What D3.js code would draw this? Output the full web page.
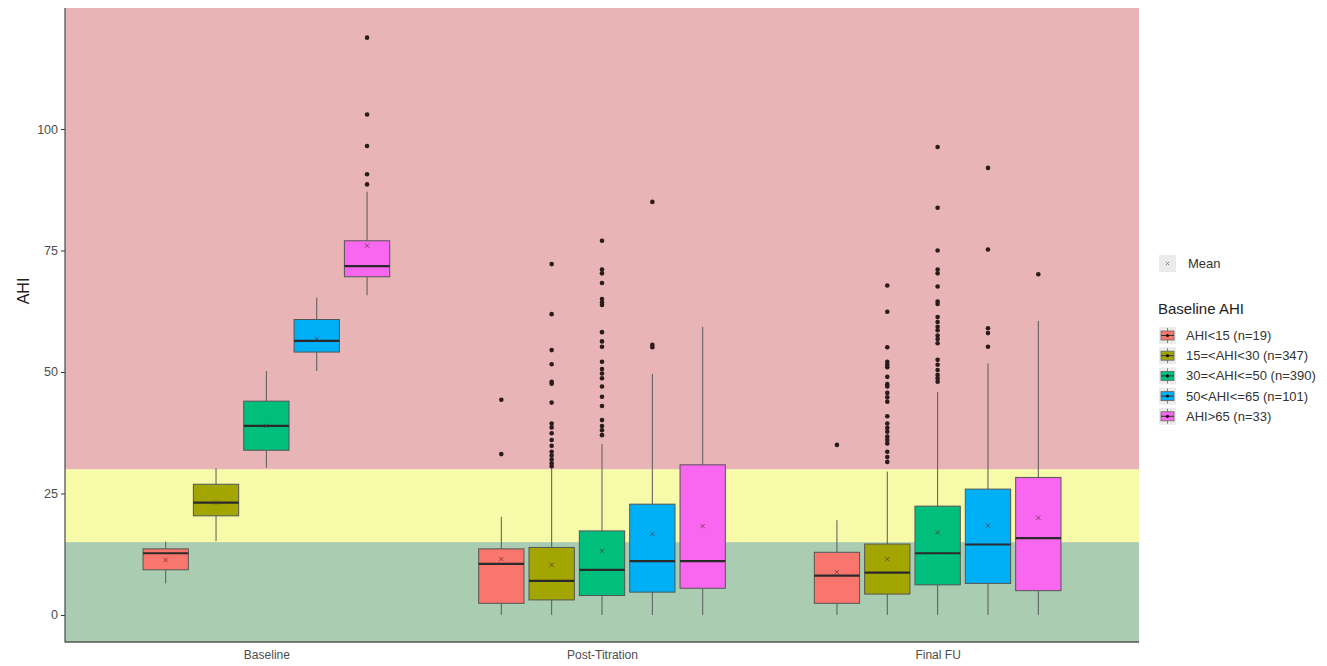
<!DOCTYPE html>
<html>
<head>
<meta charset="utf-8">
<script src="https://cdn.jsdelivr.net/npm/d3@7/dist/d3.min.js"></script>
<style>
  html, body { margin: 0; padding: 0; background: #fff; }
  svg { display: block; font-family: "Liberation Sans", Arial, sans-serif; }
</style>
</head>
<body>
<svg id="chart" width="1327" height="666"></svg>
<script>
// ---------------- data ----------------
const timepoints = ["Baseline", "Post-Titration", "Final FU"];
const groups = ["AHI<15 (n=19)", "15=<AHI<30 (n=347)", "30=<AHI<=50 (n=390)", "50<AHI<=65 (n=101)", "AHI>65 (n=33)"];
const groupColors = ["#F8766D", "#A3A500", "#00BF7D", "#00B0F6", "#F967F0"];
const yTicks = [0, 25, 50, 75, 100];
const severityCuts = [15, 30];
const severityColors = ["#AACDB1", "#F6FAA9", "#E8B4B5"];

// per timepoint, per group
const whiskerLow = [
  [6.5, 15.2, 30.3, 50.2, 65.8],
  [0, 0, 0, 0, 0],
  [0, 0, 0, 0, 0]
];
const q1 = [
  [9.3, 20.4, 33.9, 54.1, 69.6],
  [2.4, 3.1, 4.0, 4.7, 5.5],
  [2.4, 4.3, 6.2, 6.5, 5.0]
];
const medians = [
  [12.7, 23.1, 38.9, 56.4, 71.8],
  [10.5, 7.0, 9.3, 11.1, 11.1],
  [8.1, 8.7, 12.7, 14.5, 15.8]
];
const q3 = [
  [13.6, 26.9, 44.0, 60.8, 77.0],
  [13.6, 13.9, 17.3, 22.8, 30.9],
  [12.9, 14.6, 22.4, 25.9, 28.3]
];
const whiskerHigh = [
  [15.1, 30.2, 50.2, 65.3, 87.1],
  [20.2, 30.5, 35.2, 49.6, 59.3],
  [19.5, 29.5, 45.9, 51.8, 60.5]
];
const means = [
  [11.3, 23.1, 38.9, 56.8, 76.0],
  [11.5, 10.3, 13.2, 16.7, 18.3],
  [8.8, 11.5, 17.0, 18.4, 20.0]
];
const outliersBaseline = [
  [], [], [], [],
  [118.8, 103.0, 96.5, 90.7, 88.6]
];
const outliersPostTitration = [
  [44.3, 33.1],
  [72.2, 61.9, 54.5, 51.6, 48.0, 47.6, 43.7, 39.4, 38.6, 37.4, 36.0, 34.8, 33.6, 32.8, 32.0, 31.2, 30.6],
  [77.0, 71.1, 70.3, 68.3, 65.0, 64.3, 63.8, 58.2, 56.3, 55.2, 52.1, 50.6, 49.7, 48.7, 47.0, 44.9, 43.0, 40.1, 38.9, 38.0, 37.0],
  [85.0, 55.6, 55.1],
  []
];
const outliersFinalFU = [
  [35.0],
  [67.8, 62.4, 55.1, 52.1, 51.5, 51.0, 49.0, 47.5, 47.0, 45.7, 44.8, 43.9, 40.9, 39.4, 38.5, 37.7, 36.7, 36.0, 35.3, 33.6, 32.5, 31.5],
  [96.3, 83.8, 75.0, 71.1, 70.3, 67.6, 64.5, 64.0, 61.3, 60.3, 59.3, 58.6, 57.5, 56.8, 55.9, 52.5, 51.5, 50.4, 49.4, 48.7, 48.0],
  [92.0, 75.2, 59.0, 58.0, 55.2],
  [70.1]
];
const outliers = [outliersBaseline, outliersPostTitration, outliersFinalFU];

// ---------------- layout ----------------
const svg = d3.select("#chart");
const panel = { left: 65, right: 1139, top: 8, bottom: 642 };

const x = d3.scaleLinear().domain([0.4, timepoints.length + 0.6]).range([panel.left, panel.right]);
const y = d3.scaleLinear().domain([-5.56, 124.9]).range([panel.bottom, panel.top]);
const dodgeWidth = 0.75;
const slot = dodgeWidth / groups.length;
const boxW = x(slot * 0.9) - x(0);
const cx = (t, g) => x(t + 1 + (g - (groups.length - 1) / 2) * slot);

// severity bands
const bandEdges = [y.domain()[0], ...severityCuts, y.domain()[1]];
svg.append("g").selectAll("rect")
  .data(severityColors)
  .join("rect")
  .attr("x", panel.left)
  .attr("width", panel.right - panel.left)
  .attr("y", (d, i) => y(bandEdges[i + 1]))
  .attr("height", (d, i) => y(bandEdges[i]) - y(bandEdges[i + 1]))
  .attr("fill", d => d);

// boxes
const cells = [];
timepoints.forEach((tp, t) => groups.forEach((gname, g) => cells.push({ t, g })));

const gBoxes = svg.append("g");
const cell = gBoxes.selectAll("g.cell").data(cells).join("g").attr("class", "cell");

// whiskers
cell.append("line")
  .attr("x1", d => cx(d.t, d.g)).attr("x2", d => cx(d.t, d.g))
  .attr("y1", d => y(q3[d.t][d.g])).attr("y2", d => y(whiskerHigh[d.t][d.g]))
  .attr("stroke", "#5a5a5a").attr("stroke-width", 1);
cell.append("line")
  .attr("x1", d => cx(d.t, d.g)).attr("x2", d => cx(d.t, d.g))
  .attr("y1", d => y(q1[d.t][d.g])).attr("y2", d => y(whiskerLow[d.t][d.g]))
  .attr("stroke", "#5a5a5a").attr("stroke-width", 1);
// box
cell.append("rect")
  .attr("x", d => cx(d.t, d.g) - boxW / 2)
  .attr("width", boxW)
  .attr("y", d => y(q3[d.t][d.g]))
  .attr("height", d => y(q1[d.t][d.g]) - y(q3[d.t][d.g]))
  .attr("fill", d => groupColors[d.g])
  .attr("stroke", "#555").attr("stroke-width", 1);
// median
cell.append("line")
  .attr("x1", d => cx(d.t, d.g) - boxW / 2).attr("x2", d => cx(d.t, d.g) + boxW / 2)
  .attr("y1", d => y(medians[d.t][d.g])).attr("y2", d => y(medians[d.t][d.g]))
  .attr("stroke", "#2a2a2a").attr("stroke-width", 2.2);
// outliers
cell.selectAll("circle")
  .data(d => outliers[d.t][d.g].map(v => ({ t: d.t, g: d.g, v })))
  .join("circle")
  .attr("cx", d => cx(d.t, d.g))
  .attr("cy", d => y(d.v))
  .attr("r", 2.3)
  .attr("fill", "#2a1c1c");
// mean marker (x)
const xs = 2.2;
cell.append("path")
  .attr("d", d => {
    const px = cx(d.t, d.g), py = y(means[d.t][d.g]);
    return `M${px - xs},${py - xs}L${px + xs},${py + xs}M${px - xs},${py + xs}L${px + xs},${py - xs}`;
  })
  .attr("stroke", "#5a2a3a").attr("stroke-opacity", 0.75).attr("stroke-width", 0.9).attr("fill", "none");

// axes
const yAxis = d3.axisLeft(y).tickValues(yTicks).tickSize(4).tickPadding(3);
const gy = svg.append("g").attr("transform", `translate(${panel.left},0)`).call(yAxis);
gy.select(".domain").remove();
gy.selectAll(".tick line").attr("stroke", "#333");
gy.selectAll(".tick text").attr("fill", "#4d4d4d").attr("font-size", 12.5).attr("font-family", "Liberation Sans, Arial, sans-serif");

const xAxis = d3.axisBottom(x).tickValues(timepoints.map((d, i) => i + 1)).tickFormat((d, i) => timepoints[i]).tickSize(0).tickPadding(8);
const gx = svg.append("g").attr("transform", `translate(0,${panel.bottom})`).call(xAxis);
gx.select(".domain").remove();
gx.selectAll(".tick text").attr("fill", "#4d4d4d").attr("font-size", 12).attr("font-family", "Liberation Sans, Arial, sans-serif");

// axis lines
svg.append("line").attr("x1", panel.left).attr("x2", panel.left).attr("y1", panel.top).attr("y2", panel.bottom + 0.5)
  .attr("stroke", "#555").attr("stroke-width", 1.3);
svg.append("line").attr("x1", panel.left).attr("x2", panel.right).attr("y1", panel.bottom).attr("y2", panel.bottom)
  .attr("stroke", "#555").attr("stroke-width", 1.3);

// y title
svg.append("text")
  .attr("transform", `translate(29,291) rotate(-90)`)
  .attr("text-anchor", "middle")
  .attr("font-size", 16)
  .attr("fill", "#222")
  .text("AHI");

// ---------------- legend ----------------
const lg = svg.append("g");
const keyX = 1159, keyS = 17;
// Mean key
lg.append("rect").attr("x", keyX).attr("y", 255).attr("width", keyS).attr("height", keyS).attr("fill", "#ebebeb");
lg.append("path")
  .attr("d", `M${keyX + keyS / 2 - 1.6},${263.5 - 1.6}L${keyX + keyS / 2 + 1.6},${263.5 + 1.6}M${keyX + keyS / 2 - 1.6},${263.5 + 1.6}L${keyX + keyS / 2 + 1.6},${263.5 - 1.6}`)
  .attr("stroke", "#777").attr("stroke-width", 0.9);
lg.append("text").attr("x", 1188).attr("y", 268).attr("font-size", 13).attr("fill", "#333").text("Mean");

lg.append("text").attr("x", 1158).attr("y", 314).attr("font-size", 15).attr("fill", "#222").text("Baseline AHI");

const items = lg.selectAll("g.item").data(groups).join("g").attr("class", "item")
  .attr("transform", (d, i) => `translate(${keyX},${327 + i * 20.2})`);
items.append("rect").attr("width", keyS).attr("height", keyS).attr("fill", "#ebebeb");
items.append("line").attr("x1", keyS / 2).attr("x2", keyS / 2).attr("y1", 1).attr("y2", keyS - 1).attr("stroke", "#666").attr("stroke-width", 0.8);
items.append("rect").attr("x", 2).attr("y", 4).attr("width", keyS - 4).attr("height", keyS - 8)
  .attr("fill", (d, i) => groupColors[i]).attr("stroke", "#666").attr("stroke-width", 0.8);
items.append("line").attr("x1", 2).attr("x2", keyS - 2).attr("y1", keyS / 2).attr("y2", keyS / 2).attr("stroke", "#333").attr("stroke-width", 1);
items.append("circle").attr("cx", keyS / 2).attr("cy", keyS / 2).attr("r", 1.6).attr("fill", "#111");
items.append("text").attr("x", 27).attr("y", keyS / 2 + 4.5).attr("font-size", 13).attr("fill", "#333").text(d => d);
</script>
</body>
</html>
